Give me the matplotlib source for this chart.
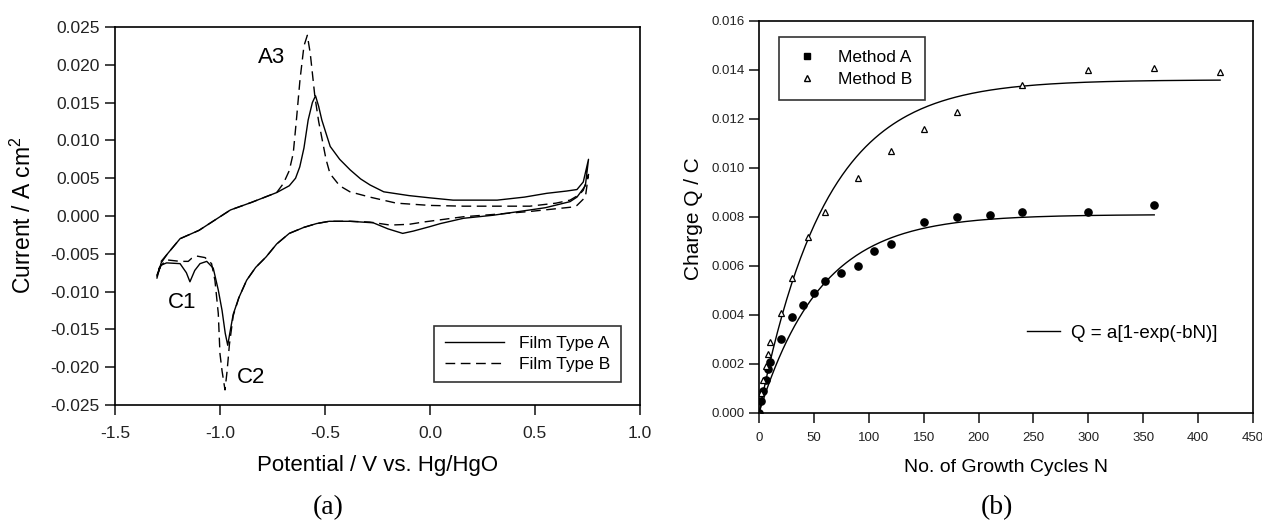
import numpy as np
import matplotlib
matplotlib.use("Agg")
import matplotlib.pyplot as plt
from matplotlib.lines import Line2D
from matplotlib.ticker import FormatStrFormatter

plt.rcParams['font.family'] = ['Liberation Sans', 'DejaVu Sans']
plt.rcParams['mathtext.fontset'] = 'custom'
plt.rcParams['mathtext.rm'] = 'Liberation Sans'

# --- (a) cyclic voltammograms, potential (V) and current (A cm^-2) ---
film_a_v = [-1.300, -1.280, -1.250, -1.190, -1.100, -1.000, -0.950, -0.850, -0.730,
            -0.670, -0.640, -0.620, -0.600, -0.580, -0.560, -0.545, -0.530, -0.515,
            -0.490, -0.475, -0.430, -0.380, -0.330, -0.285, -0.220, -0.100, 0.000,
            0.110, 0.320, 0.450, 0.556, 0.650, 0.700, 0.730, 0.755,
            0.740, 0.700, 0.667, 0.550, 0.476, 0.300, 0.160, 0.050, 0.000, -0.080,
            -0.130, -0.200, -0.270, -0.380, -0.480, -0.540, -0.600, -0.670, -0.730,
            -0.780, -0.830, -0.873, -0.910, -0.937, -0.955, -0.963, -0.975, -0.990,
            -1.008, -1.032, -1.063, -1.095, -1.120, -1.143, -1.160, -1.190, -1.254,
            -1.280, -1.300]
film_a_i = [-0.0082, -0.0062, -0.0050, -0.0030, -0.0019, -0.0001, 0.0008, 0.0018, 0.0031,
            0.0040, 0.0050, 0.0065, 0.0090, 0.0127, 0.0150, 0.0159, 0.0145, 0.0127,
            0.0105, 0.0092, 0.0075, 0.0061, 0.0049, 0.0041, 0.0032, 0.0027, 0.0024,
            0.0021, 0.0021, 0.0025, 0.0030, 0.0033, 0.0035, 0.0045, 0.0075,
            0.0040, 0.0025, 0.0019, 0.0011, 0.0008, 0.0001, -0.0003, -0.0010, -0.0014, -0.0020,
            -0.0023, -0.0017, -0.0009, -0.0007, -0.0007, -0.0010, -0.0015, -0.0023, -0.0037,
            -0.0054, -0.0068, -0.0085, -0.0108, -0.0130, -0.0158, -0.0171, -0.0155, -0.0125,
            -0.0098, -0.0069, -0.0060, -0.0063, -0.0072, -0.0087, -0.0075, -0.0063, -0.0062,
            -0.0065, -0.0078]

film_b_v = [-1.300, -1.280, -1.250, -1.190, -1.100, -1.000, -0.950, -0.850, -0.730,
            -0.698, -0.670, -0.651, -0.635, -0.619, -0.600, -0.584, -0.570, -0.548,
            -0.530, -0.516, -0.495, -0.476, -0.430, -0.381, -0.286, -0.160, 0.000,
            0.159, 0.476, 0.600, 0.667, 0.710, 0.730, 0.755,
            0.740, 0.700, 0.683, 0.476, 0.300, 0.159, 0.050, -0.032, -0.100, -0.190,
            -0.286, -0.380, -0.480, -0.540, -0.600, -0.670, -0.730, -0.780, -0.830,
            -0.873, -0.910, -0.937, -0.955, -0.966, -0.976, -0.990, -1.000, -1.008,
            -1.024, -1.040, -1.071, -1.110, -1.135, -1.151, -1.190, -1.254, -1.286,
            -1.300]
film_b_i = [-0.0080, -0.0060, -0.0050, -0.0030, -0.0019, -0.0001, 0.0008, 0.0018, 0.0031,
            0.0043, 0.0060, 0.0083, 0.0130, 0.0180, 0.0225, 0.0239, 0.0215, 0.0158,
            0.0125, 0.0105, 0.0075, 0.0056, 0.0040, 0.0032, 0.0025, 0.0017, 0.0014,
            0.0013, 0.0013, 0.0017, 0.0021, 0.0028, 0.0034, 0.0055,
            0.0025, 0.0014, 0.0012, 0.0006, 0.0002, -0.0001, -0.0005, -0.0008, -0.0011, -0.0012,
            -0.0008, -0.0007, -0.0007, -0.0010, -0.0015, -0.0023, -0.0037, -0.0054, -0.0068,
            -0.0085, -0.0108, -0.0132, -0.0170, -0.0205, -0.0230, -0.0205, -0.0182, -0.0129,
            -0.0085, -0.0063, -0.0055, -0.0053, -0.0056, -0.0060, -0.0060, -0.0058, -0.0067,
            -0.0080]

# --- (b) charge vs. number of growth cycles ---
method_a_n = [0, 2, 4, 6, 8, 10, 20, 30, 40, 50, 60, 75, 90, 105, 120, 150, 180, 210, 240, 300, 360]
method_a_q = [0.0, 0.0005, 0.0009, 0.00135, 0.0018, 0.0021, 0.0030, 0.0039, 0.0044, 0.0049,
              0.0054, 0.0057, 0.0060, 0.0066, 0.0069, 0.0078, 0.0080, 0.0081, 0.0082, 0.0082, 0.0085]
method_b_n = [0, 2, 4, 6, 8, 10, 20, 30, 45, 60, 90, 120, 150, 180, 240, 300, 360, 420]
method_b_q = [0.0, 0.0008, 0.00135, 0.0019, 0.0024, 0.0029, 0.0041, 0.0055, 0.0072, 0.0082,
              0.0096, 0.0107, 0.0116, 0.0123, 0.0134, 0.0140, 0.0141, 0.0139]

# fitted parameters of Q = a[1-exp(-bN)]
fit_a = (0.0081, 0.0178)
fit_b = (0.0136, 0.0165)

tick_col = '#222222'
serif = ['Liberation Serif', 'DejaVu Serif']

fig = plt.figure(figsize=(12.62, 5.21), dpi=100)

# ---------------- panel (a) ----------------
ax1 = fig.add_axes([0.0911, 0.2226, 0.4160, 0.7256])
ax1.plot(film_a_v, film_a_i, color='black', lw=1.0, label='Film Type A')
ax1.plot(film_b_v, film_b_i, color='black', lw=1.0, ls=(0, (7, 4)), label='Film Type B')
ax1.set_xlim(-1.5, 1.0)
ax1.set_ylim(-0.025, 0.025)
ax1.set_xticks([-1.5, -1.0, -0.5, 0.0, 0.5, 1.0])
ax1.set_yticks(np.arange(-0.025, 0.0251, 0.005))
ax1.xaxis.set_major_formatter(FormatStrFormatter('%.1f'))
ax1.yaxis.set_major_formatter(FormatStrFormatter('%.3f'))
ax1.tick_params(direction='out', length=7, width=1.2, labelsize=12.5, colors=tick_col, pad=4)
ax1.tick_params(axis='x', pad=8)
for sp in ax1.spines.values():
    sp.set_linewidth(1.2)
ax1.set_xlabel('Potential / V vs. Hg/HgO', fontsize=16, va='center')
ax1.xaxis.set_label_coords(0.5, -0.159)
ax1.set_ylabel('Current / A cm$^{2}$', fontsize=16.5, va='center')
ax1.yaxis.set_label_coords(-0.174, 0.503)
ax1.text(-0.82, 0.0210, 'A3', fontsize=16, va='center')
ax1.text(-1.25, -0.0115, 'C1', fontsize=16, va='center')
ax1.text(-0.92, -0.0214, 'C2', fontsize=16, va='center')
leg1 = ax1.legend(loc='lower right', bbox_to_anchor=(0.9638, 0.0608), borderaxespad=0,
                  frameon=True, fancybox=False, edgecolor='black', fontsize=12.5,
                  handlelength=3.4, handletextpad=0.9, borderpad=0.6, labelspacing=0.3)
leg1.get_frame().set_linewidth(1.2)

# ---------------- panel (b) ----------------
ax2 = fig.add_axes([0.6014, 0.2073, 0.3915, 0.7524])
n_a = np.linspace(0, method_a_n[-1], 200)
n_b = np.linspace(0, method_b_n[-1], 200)
fit_line, = ax2.plot(n_a, fit_a[0] * (1 - np.exp(-fit_a[1] * n_a)), color='black', lw=1.0)
ax2.plot(n_b, fit_b[0] * (1 - np.exp(-fit_b[1] * n_b)), color='black', lw=1.0)
ax2.plot(method_a_n, method_a_q, ls='none', marker='o', ms=5.2, mfc='black', mec='black')
ax2.plot(method_b_n, method_b_q, ls='none', marker='^', ms=4.5, mfc='white', mec='black', mew=0.9)
ax2.set_xlim(0, 450)
ax2.set_ylim(0, 0.016)
ax2.set_xticks(np.arange(0, 451, 50))
ax2.set_yticks(np.arange(0, 0.0161, 0.002))
ax2.yaxis.set_major_formatter(FormatStrFormatter('%.3f'))
ax2.tick_params(direction='out', length=7, width=1.2, labelsize=9.5, colors=tick_col, pad=3)
ax2.tick_params(axis='x', pad=7)
for sp in ax2.spines.values():
    sp.set_linewidth(1.2)
ax2.set_xlabel('No. of Growth Cycles N', fontsize=14, va='center')
ax2.xaxis.set_label_coords(0.5, -0.138)
ax2.set_ylabel('Charge Q / C', fontsize=15, va='center')
ax2.yaxis.set_label_coords(-0.1316, 0.497)

h_a = Line2D([], [], ls='none', marker='s', ms=3.8, mfc='black', mec='black')
h_b = Line2D([], [], ls='none', marker='^', ms=3.8, mfc='white', mec='black')
leg2 = ax2.legend([h_a, h_b], ['Method A', 'Method B'], loc='upper left',
                  bbox_to_anchor=(0.0405, 0.959), borderaxespad=0, frameon=True,
                  fancybox=False, edgecolor='black', fontsize=12.5, handlelength=1.8,
                  handletextpad=0.9, borderpad=0.72, labelspacing=0.42)
leg2.get_frame().set_linewidth(1.2)
ax2.add_artist(leg2)
ax2.legend([fit_line], ['Q = a[1-exp(-bN)]'], loc='center left', bbox_to_anchor=(0.5425, 0.204),
           borderaxespad=0, borderpad=0, frameon=False, fontsize=13.5, handlelength=1.76,
           handletextpad=0.6)

fig.text(0.260, 0.025, '(a)', fontsize=20, family=serif, ha='center', va='center')
fig.text(0.790, 0.025, '(b)', fontsize=20, family=serif, ha='center', va='center')

fig.savefig('out.png', dpi=100)
